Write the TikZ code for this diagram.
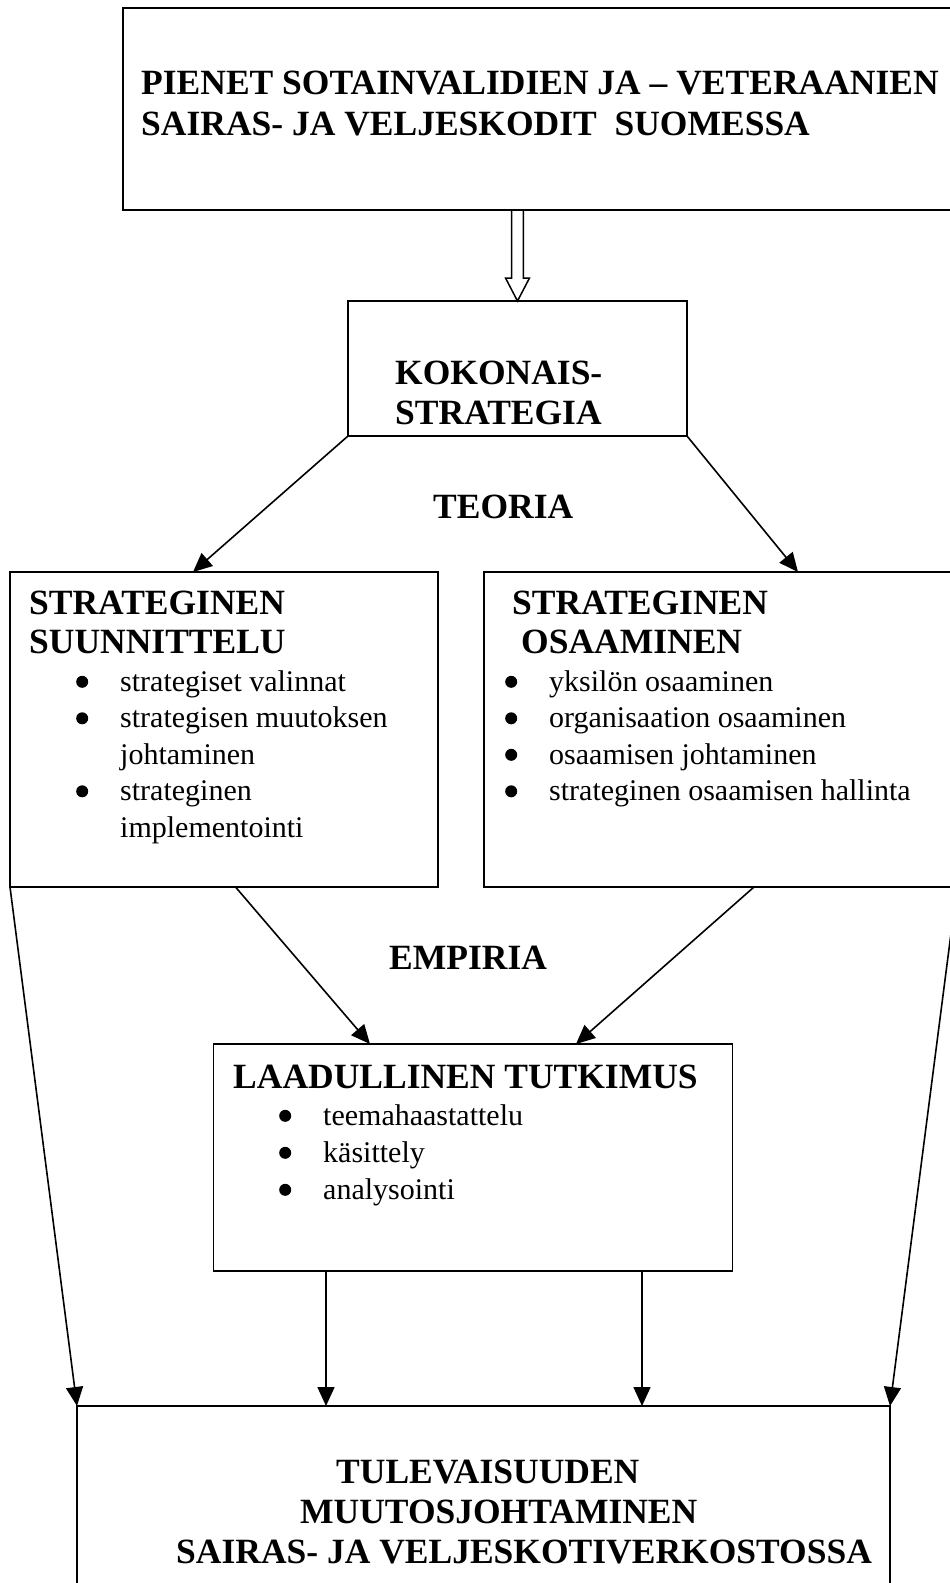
\documentclass[tikz,border=0pt]{standalone}
\usepackage{fontspec}
\setmainfont{Liberation Serif}
\usetikzlibrary{arrows.meta,calc}

\tikzset{
  box/.style={draw, line width=1.5pt, inner sep=0pt, outer sep=0pt},
  head/.style={anchor=base west, inner sep=0pt, font=\fontsize{35.5}{40}\selectfont\bfseries},
  item/.style={anchor=base west, inner sep=0pt, font=\fontsize{30}{36}\selectfont},
  link/.style={line width=1.6pt, -{Triangle[length=19pt,width=17pt]}},
  hollow/.style={line width=1.5pt, line join=miter},
}
% list marker: a filled dot followed by a fixed indent
\newcommand{\bul}{\makebox[44pt][l]{\raisebox{3.2pt}{\tikz\fill (0pt,0pt) circle (6pt);}}}

\begin{document}
\begin{tikzpicture}[x=1pt,y=-1pt]
\useasboundingbox (0,0) rectangle (950,1583);

% frames
\node[box, minimum width=837pt, minimum height=202pt] (top)    at (541.5,109)  {};
\node[box, minimum width=339pt, minimum height=135pt] (kok)    at (517.5,368.5) {};
\node[box, minimum width=428pt, minimum height=315pt] (plan)   at (224,729.5)  {};
\node[box, minimum width=473pt, minimum height=315pt] (comp)   at (720.5,729.5) {};
\node[box, minimum width=519pt, minimum height=227pt] (study)  at (473,1157.5) {};
\node[box, minimum width=813pt, minimum height=194pt] (result) at (483.5,1503) {};

% title
\node[head] (t1) at (141,94)  {PIENET SOTAINVALIDIEN JA – VETERAANIEN};
\node[head] (t2) at (141,135) {SAIRAS- JA VELJESKODIT\ \ SUOMESSA};

% overall strategy
\node[head] (k1) at (395,384) {KOKONAIS-};
\node[head] (k2) at (395,424) {STRATEGIA};
\node[head] (teoria) at (433,518) {TEORIA};

% strategic planning
\node[head] (p1) at (29,614) {STRATEGINEN};
\node[head] (p2) at (29,653) {SUUNNITTELU};
\node[item] (p3) at (76,691)    {\bul strategiset valinnat};
\node[item] (p4) at (76,727.5)  {\bul strategisen muutoksen};
\node[item] (p5) at (120,764)   {johtaminen};
\node[item] (p6) at (76,800.5)  {\bul strateginen};
\node[item] (p7) at (120,837)   {implementointi};

% strategic competence
\node[head] (c1) at (512,614) {STRATEGINEN};
\node[head] (c2) at (521,653) {OSAAMINEN};
\node[item] (c3) at (505,691)   {\bul yksilön osaaminen};
\node[item] (c4) at (505,727.5) {\bul organisaation osaaminen};
\node[item] (c5) at (505,764)   {\bul osaamisen johtaminen};
\node[item] (c6) at (505,800.5) {\bul strateginen osaamisen hallinta};

\node[head] (empiria) at (389,969) {EMPIRIA};

% qualitative study
\node[head] (s1) at (233,1088) {LAADULLINEN TUTKIMUS};
\node[item] (s2) at (279,1125)  {\bul teemahaastattelu};
\node[item] (s3) at (279,1162)  {\bul käsittely};
\node[item] (s4) at (279,1199)  {\bul analysointi};

% outcome
\node[head] (r1) at (336,1483) {TULEVAISUUDEN};
\node[head] (r2) at (300,1523) {MUUTOSJOHTAMINEN};
\node[head] (r3) at (176,1563) {SAIRAS- JA VELJESKOTIVERKOSTOSSA};

% hollow block arrow
\draw[hollow]
  ($(kok.north |- top.south)+(-5.8,0)$) -- ($(kok.north)+(-5.8,-23)$)
  -- ($(kok.north)+(-12,-23)$) -- (kok.north) -- ($(kok.north)+(12,-23)$)
  -- ($(kok.north)+(5.8,-23)$) -- ($(kok.north |- top.south)+(5.8,0)$);

% connectors
\draw[link] (kok.south west) -- ($(plan.north west)+(183,0)$);
\draw[link] (kok.south east) -- ($(comp.north west)+(314,0)$);
\draw[link] ($(plan.south west)+(225.5,0)$) -- ($(study.north west)+(156.5,0)$);
\draw[link] ($(comp.south west)+(270,0)$) -- ($(study.north west)+(362.5,0)$);
\draw[link] ($(study.south west)+(112.5,0)$) -- ($(result.north west)+(249,0)$);
\draw[link] ($(study.south west)+(428.5,0)$) -- ($(result.north west)+(565,0)$);
\draw[link] (plan.south west) -- (result.north west);
\draw[link] (comp.south east) -- (result.north east);
\end{tikzpicture}
\end{document}
